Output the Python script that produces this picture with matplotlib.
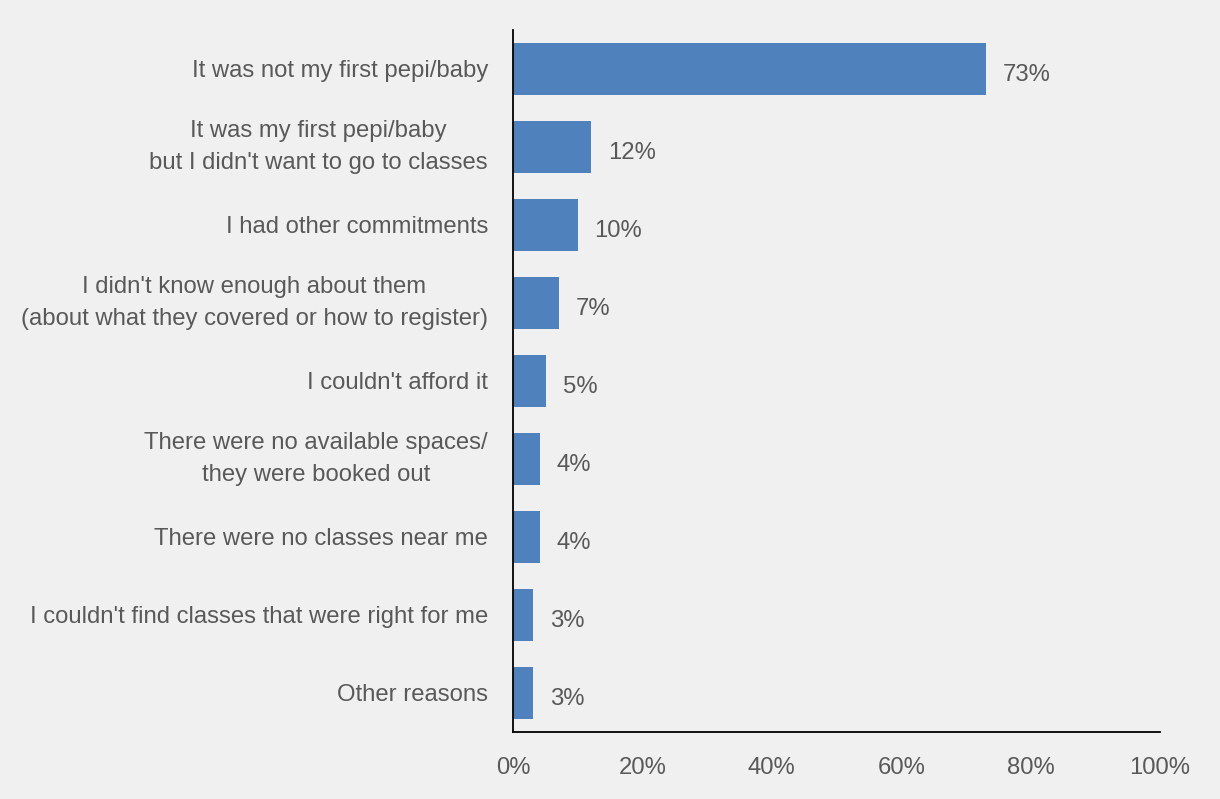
import matplotlib.pyplot as plt

# Reasons for not attending classes (share of respondents)
reasons = [
    "It was not my first pepi/baby",
    "It was my first pepi/baby\nbut I didn't want to go to classes",
    "I had other commitments",
    "I didn't know enough about them\n(about what they covered or how to register)",
    "I couldn't afford it",
    "There were no available spaces/\nthey were booked out",
    "There were no classes near me",
    "I couldn't find classes that were right for me",
    "Other reasons",
]
shares = [73.1, 12.1, 10.0, 7.1, 5.1, 4.1, 4.1, 3.1, 3.1]
x_ticks = [0, 20, 40, 60, 80, 100]

bg = '#f0f0f0'
text_color = '#595959'
bar_color = '#4f81bd'

plt.rcParams['font.family'] = ['Liberation Sans', 'DejaVu Sans']

fig = plt.figure(figsize=(12.2, 7.99), dpi=100, facecolor=bg)
ax = fig.add_axes([0.4205, 0.0839, 0.5303, 0.8786])
ax.set_facecolor(bg)

pos = list(range(len(reasons)))
ax.barh(pos, shares, height=0.667, color=bar_color)

# value labels next to each bar
for y, v in zip(pos, shares):
    ax.annotate(f"{round(v)}%", xy=(v, y), xytext=(12, -4), textcoords='offset points',
                ha='left', va='center', fontsize=17.2, color=text_color)

ax.set_ylim(len(reasons) - 0.5, -0.5)
ax.set_xlim(0, 100)
ax.set_yticks(pos)
ax.set_yticklabels(reasons, fontsize=17.2, color=text_color, multialignment='center',
                   linespacing=1.55)
# two-line labels sit centred on their bar
for lbl in ax.get_yticklabels():
    if '\n' in lbl.get_text():
        lbl.set_va('center')
ax.set_xticks(x_ticks)
ax.set_xticklabels([f"{t}%" for t in x_ticks], fontsize=17.2, color=text_color)
ax.tick_params(axis='y', length=0, pad=18)
ax.tick_params(axis='x', length=0, pad=18)

for side in ['top', 'right']:
    ax.spines[side].set_visible(False)
for side in ['left', 'bottom']:
    ax.spines[side].set_color('black')
    ax.spines[side].set_linewidth(1.3)

plt.savefig('out.png', dpi=100, facecolor=bg)
